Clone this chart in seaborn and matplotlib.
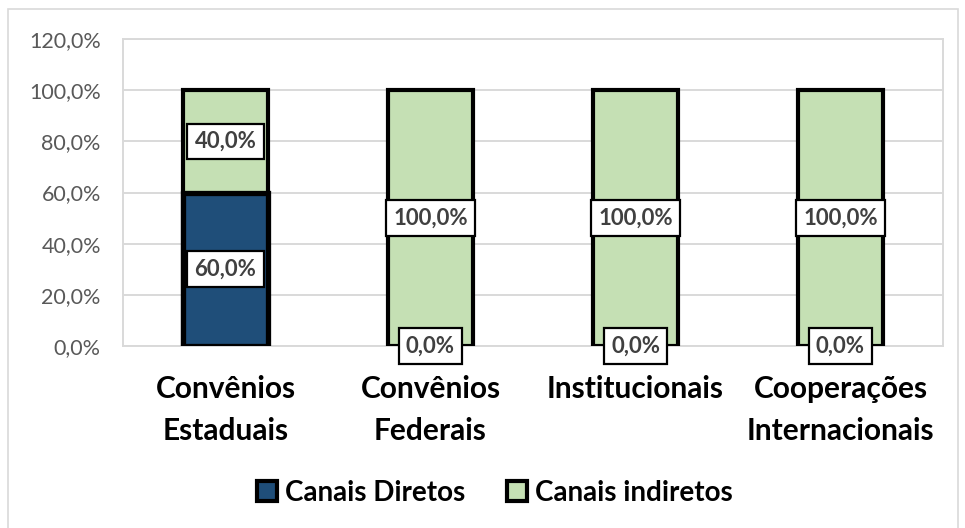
import matplotlib
matplotlib.use("Agg")
import matplotlib.pyplot as plt
import matplotlib.patches as mpatches
import seaborn as sns
import pandas as pd

categories = ["Convênios\nEstaduais", "Convênios\nFederais", "Institucionais", "Cooperações\nInternacionais"]
canais_diretos = [60.0, 0.0, 0.0, 0.0]
canais_indiretos = [40.0, 100.0, 100.0, 100.0]
series_names = ["Canais Diretos", "Canais indiretos"]
yticks = [0, 20, 40, 60, 80, 100, 120]

BLUE = "#1F4E79"
GREEN = "#C5E0B4"
FONT = "Lato"

sns.set_theme(style="white")
plt.rcParams["font.family"] = [FONT, "DejaVu Sans"]

df = pd.DataFrame({
    "cat": categories,
    "diretos": canais_diretos,
    "indiretos": canais_indiretos,
})
df["total"] = df["diretos"] + df["indiretos"]

fig = plt.figure(figsize=(9.65, 5.28), dpi=100)
W, H = 965, 528
ax = fig.add_axes([123 / W, 1 - 346 / H, (943 - 123) / W, (346 - 39) / H])

# outer chart border
fig.patches.append(mpatches.Rectangle((8 / W, -0.05), (958 - 8) / W, (1 - 9 / H) + 0.05,
                                      transform=fig.transFigure, fill=False,
                                      edgecolor="#D9D9D9", linewidth=1.2, zorder=0))

sns.barplot(data=df, x="cat", y="total", color=GREEN, edgecolor="black",
            linewidth=3, width=0.41, saturation=1, ax=ax, zorder=3)
sns.barplot(data=df, x="cat", y="diretos", color=BLUE, edgecolor="black",
            linewidth=3.8, width=0.41, saturation=1, ax=ax, zorder=4)
for p in ax.patches:
    if p.get_height() == 0:
        p.set_linewidth(0)

ax.set_ylim(0, 120)
ax.set_xlim(-0.5, len(categories) - 0.5)
ax.set_yticks(yticks)
ax.set_yticklabels([f"{v:.1f}%".replace(".", ",") for v in yticks],
                   fontsize=15.5, color="#595959")
ax.tick_params(axis="y", length=0, pad=16)
ax.tick_params(axis="x", length=0, pad=21)
ax.set_xticks(range(len(categories)))
ax.set_xticklabels(categories, fontsize=21.5, fontweight="bold", color="black",
                   linespacing=1.62)
ax.set_xlabel("")
ax.set_ylabel("")
ax.grid(axis="y", color="#D9D9D9", linewidth=1.4, zorder=0)
ax.set_axisbelow(True)
for s in ax.spines.values():
    s.set_color("#D9D9D9")
    s.set_linewidth(1.4)

def lbl(x, y, v):
    ax.text(x, y, f"{v:.1f}%".replace(".", ","), ha="center", va="center",
            fontsize=16, fontweight="bold", color="#404040", zorder=10, clip_on=False,
            bbox=dict(boxstyle="square,pad=0.33", facecolor="white",
                      edgecolor="black", linewidth=1.6))

for i in range(len(categories)):
    d = canais_diretos[i]
    ind = canais_indiretos[i]
    lbl(i, d / 2, d)
    lbl(i, d + ind / 2, ind)

handles = [mpatches.Patch(facecolor=BLUE, edgecolor="black", linewidth=3, label=series_names[0]),
           mpatches.Patch(facecolor=GREEN, edgecolor="black", linewidth=3, label=series_names[1])]
leg = fig.legend(handles=handles, loc="center", bbox_to_anchor=(495 / W, 1 - 493 / H),
                 ncol=2, frameon=False, prop={"family": FONT, "weight": "bold", "size": 20},
                 handlelength=0.72, handleheight=0.72, handletextpad=0.28, columnspacing=1.5)
for t in leg.get_texts():
    t.set_color("black")

fig.savefig("out.png", dpi=100)
